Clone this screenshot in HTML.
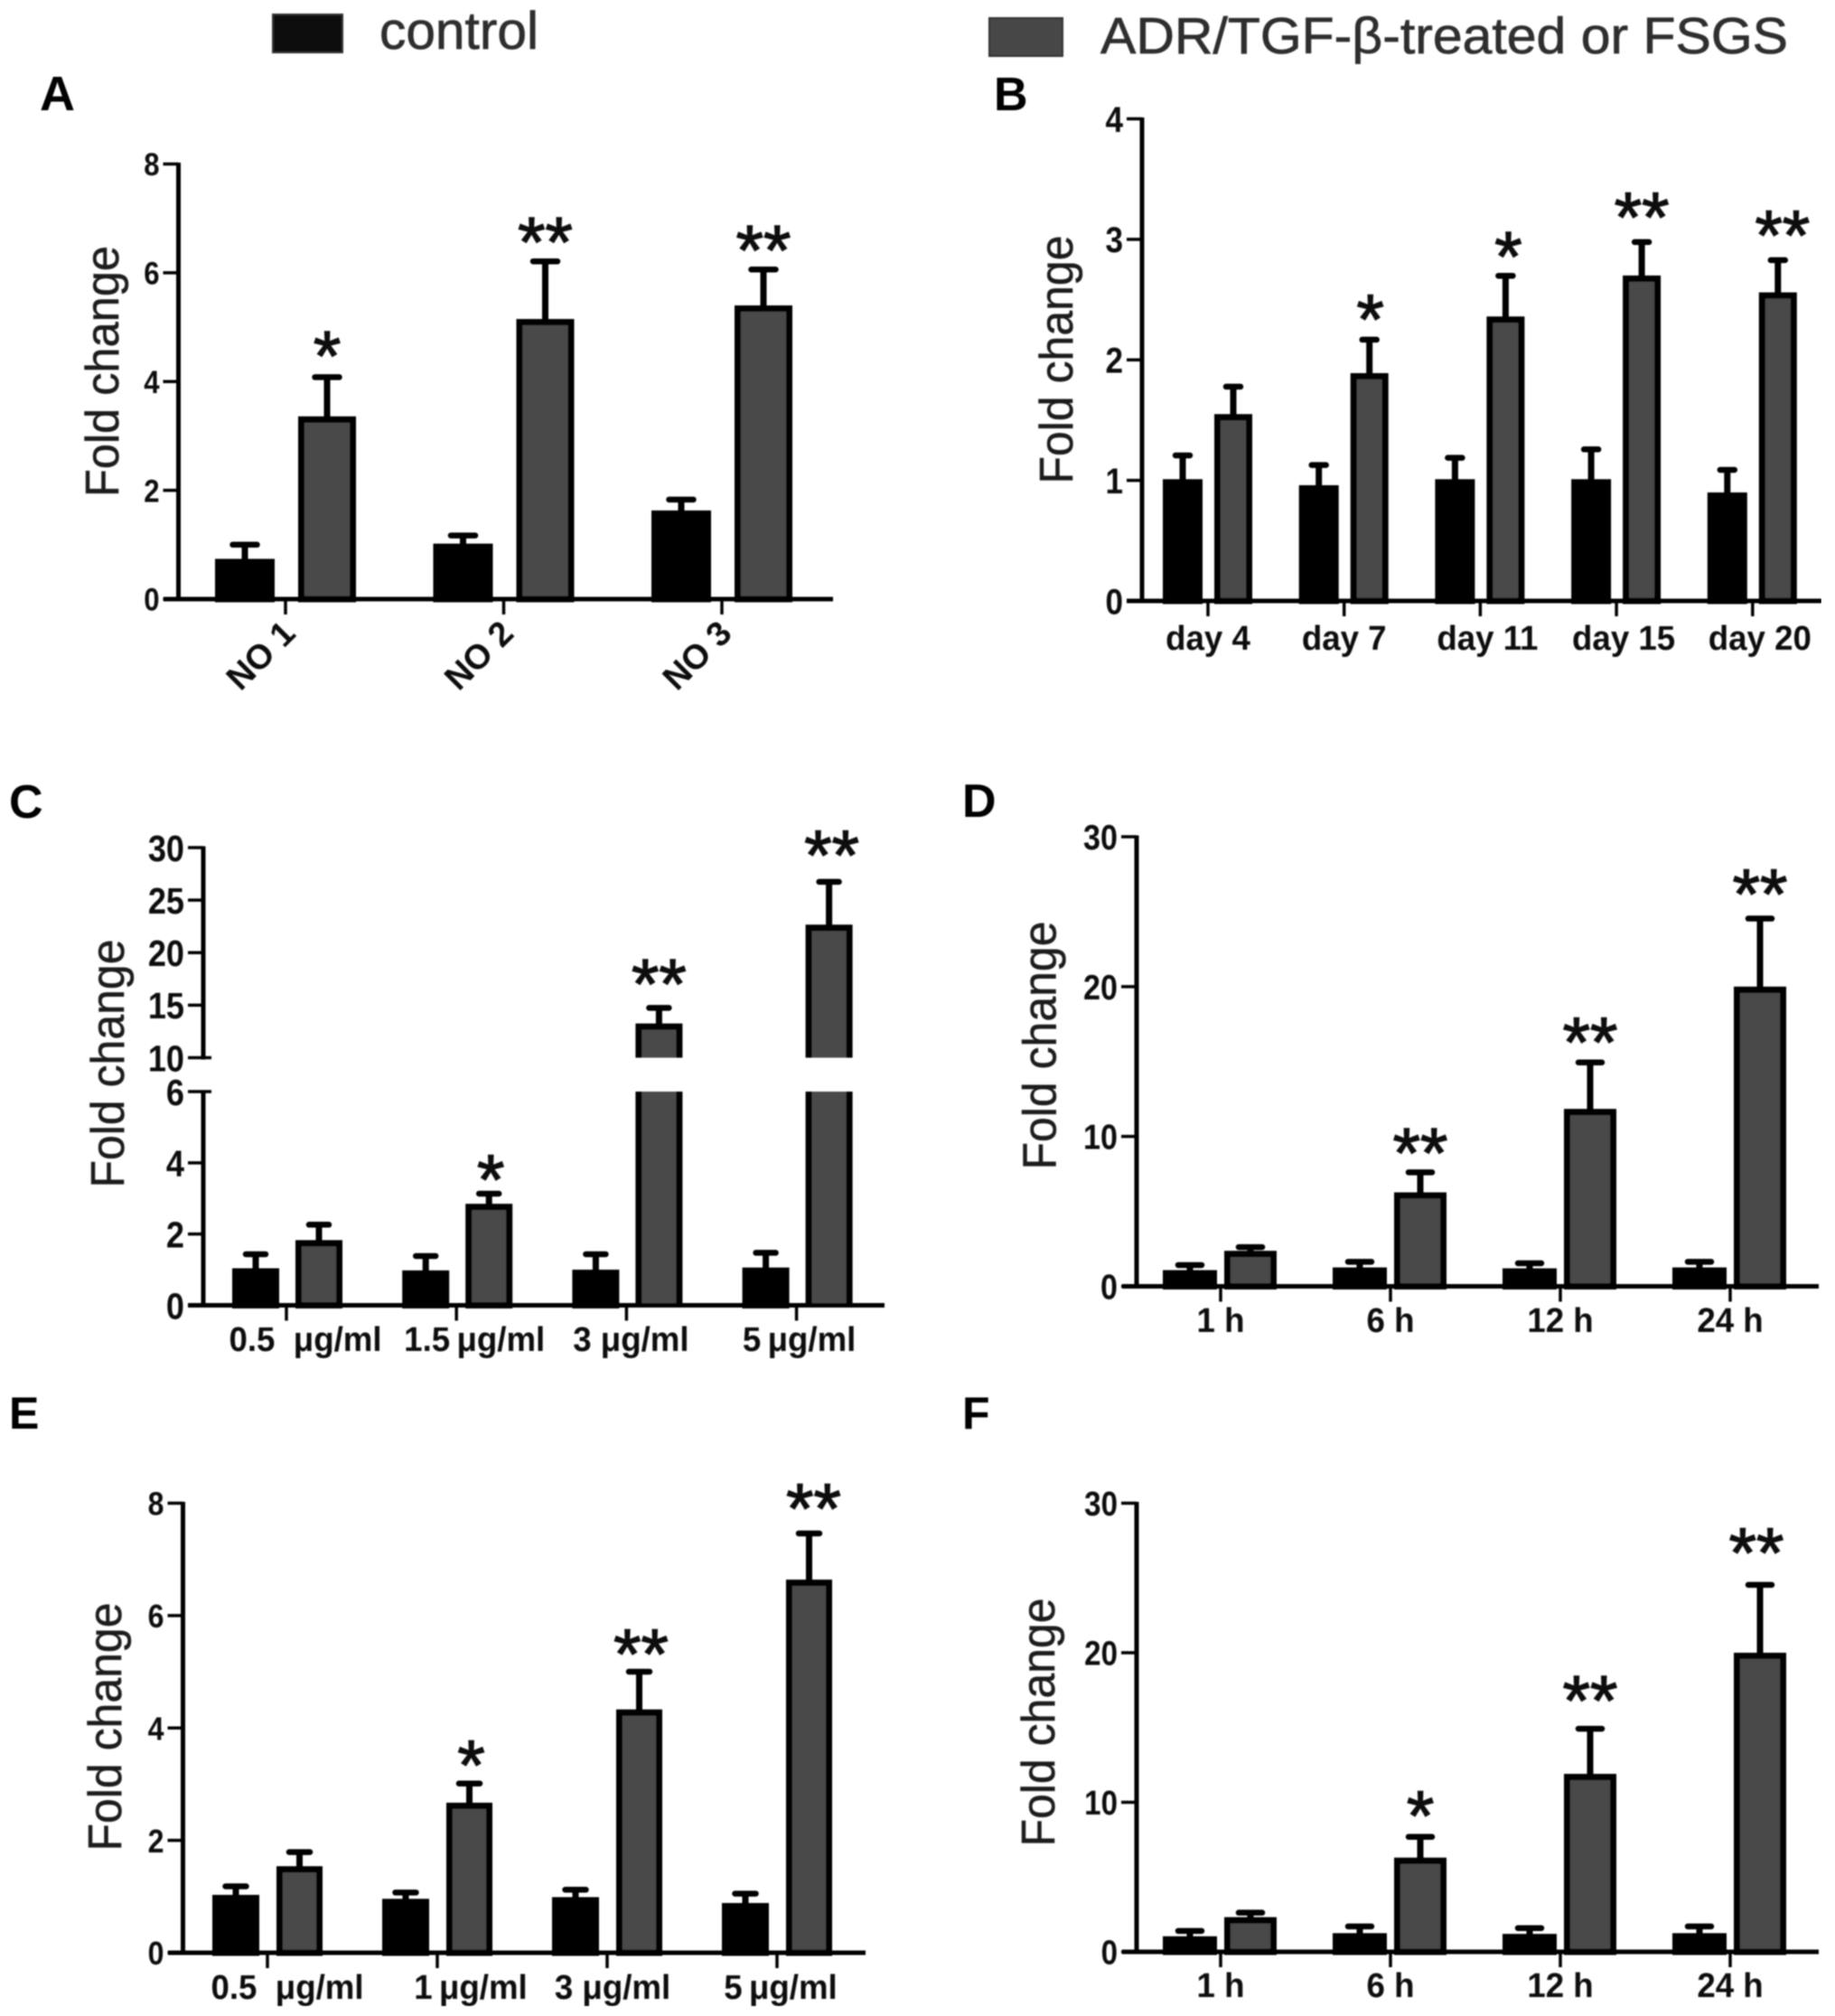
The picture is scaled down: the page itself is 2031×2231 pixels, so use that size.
<!DOCTYPE html>
<html lang="en">
<head>
<meta charset="utf-8">
<title>Fold change bar chart panels</title>
<style>
  html, body { margin: 0; padding: 0; background: #fff; }
  svg { display: block; }
  text { font-family: "Liberation Sans", "DejaVu Sans", sans-serif; white-space: pre; }
  .tick { font-weight: 700; fill: #0d0d0d; }
  .star { font-weight: 400; fill: #0d0d0d; stroke: #0d0d0d; stroke-width: 1.4; }
  .title { fill: #1c1c1c; stroke: #1c1c1c; stroke-width: 0.5; }
  .letter { font-weight: 700; fill: #000; }
  .legend-text { fill: #2e2e2e; stroke: #2e2e2e; stroke-width: 0.7; }
</style>
</head>
<body>
<svg id="figure" xmlns="http://www.w3.org/2000/svg" width="2031" height="2231" viewBox="0 0 2031 2231">
  <defs>
    <filter id="soft" x="0" y="0" width="100%" height="100%"><feGaussianBlur stdDeviation="0.8"/></filter>
  </defs>
  <rect width="2031" height="2231" fill="#fff"/>
  <g id="root" filter="url(#soft)">
    <g>
      <g>
        <rect x="302" y="16" width="77" height="42" fill="#111" stroke="#333" stroke-width="2"/>
        <text class="legend-text" x="420" y="54" font-size="58" textLength="176" lengthAdjust="spacingAndGlyphs">control</text>
      </g>
      <g>
        <rect x="1095" y="20" width="81" height="42" fill="#474747" stroke="#333" stroke-width="2"/>
        <text class="legend-text" x="1218" y="59" font-size="57" textLength="761" lengthAdjust="spacingAndGlyphs">ADR/TGF-β-treated or FSGS</text>
      </g>
    </g>
    <text class="letter" x="44" y="122" font-size="54">A</text>
    <text class="letter" x="1100" y="122" font-size="52">B</text>
    <text class="letter" x="10" y="905" font-size="52">C</text>
    <text class="letter" x="1065" y="904" font-size="52">D</text>
    <text class="letter" x="10" y="1581" font-size="50">E</text>
    <text class="letter" x="1065" y="1581" font-size="50">F</text>
  </g>
</svg>
<script>
// Panel A
const aCategories = ['NO 1', 'NO 2', 'NO 3'];
const aControl = [0.74, 1.02, 1.63];
const aControlErr = [0.31, 0.20, 0.25];
const aTreated = [3.36, 5.15, 5.40];
const aTreatedErr = [0.77, 1.11, 0.71];
const aStars = ['*', '**', '**'];
const aYTicks = [0, 2, 4, 6, 8];

// Panel B
const bCategories = ['day 4', 'day 7', 'day 11', 'day 15', 'day 20'];
const bControl = [1.01, 0.96, 1.01, 1.01, 0.90];
const bControlErr = [0.22, 0.19, 0.20, 0.27, 0.21];
const bTreated = [1.55, 1.89, 2.36, 2.70, 2.56];
const bTreatedErr = [0.25, 0.30, 0.36, 0.30, 0.29];
const bStars = ['', '*', '*', '**', '**'];
const bYTicks = [0, 1, 2, 3, 4];

// Panel C (broken axis)
const cCategories = ['0.5\u00a0\u00a0μg/ml', '1.5\u2009μg/ml', '3 μg/ml', '5\u2009μg/ml'];
const cControl = [1.04, 0.98, 1.00, 1.06];
const cControlErr = [0.47, 0.48, 0.51, 0.49];
const cTreated = [1.83, 2.85, 13.26, 22.67];
const cTreatedErr = [0.51, 0.36, 1.74, 4.33];
const cStars = ['', '*', '**', '**'];
const cYTicks = [0, 2, 4, 6, 10, 15, 20, 25, 30];

// Panel D
const dCategories = ['1 h', '6 h', '12 h', '24 h'];
const dControl = [1.08, 1.26, 1.20, 1.26];
const dControlErr = [0.52, 0.56, 0.52, 0.56];
const dTreated = [2.37, 6.27, 11.84, 20.0];
const dTreatedErr = [0.43, 1.52, 3.28, 4.72];
const dStars = ['', '**', '**', '**'];
const dYTicks = [0, 10, 20, 30];

// Panel E
const eCategories = ['0.5\u00a0\u00a0μg/ml', '1\u2009μg/ml', '3 μg/ml', '5\u2009μg/ml'];
const eControl = [1.03, 0.96, 0.99, 0.885];
const eControlErr = [0.20, 0.16, 0.18, 0.215];
const eTreated = [1.54, 2.67, 4.33, 6.64];
const eTreatedErr = [0.30, 0.39, 0.72, 0.87];
const eStars = ['', '*', '**', '**'];
const eYTicks = [0, 2, 4, 6, 8];

// Panel F
const fCategories = ['1 h', '6 h', '12 h', '24 h'];
const fControl = [1.04, 1.25, 1.20, 1.25];
const fControlErr = [0.54, 0.63, 0.57, 0.63];
const fTreated = [2.32, 6.30, 11.90, 20.0];
const fTreatedErr = [0.48, 1.57, 3.20, 4.72];
const fStars = ['', '*', '**', '**'];
const fYTicks = [0, 10, 20, 30];

const NS = 'http://www.w3.org/2000/svg';
const CONTROL_FILL = '#060606';
const TREATED_FILL = '#484848';
const BAR_STROKE = 7;
const STAR_SIZE = 78;
const root = document.getElementById('root');

function mk(parent, tag, attrs) {
  const el = document.createElementNS(NS, tag);
  for (const k in attrs) el.setAttribute(k, attrs[k]);
  parent.appendChild(el);
  return el;
}

function makeYScale(segs) {
  return function (v) {
    for (let i = 0; i < segs.length; i++) {
      const s = segs[i];
      if (v <= s.to || i === segs.length - 1) {
        const clamped = Math.max(v, s.from);
        return s.y0 + (clamped - s.from) * (s.y1 - s.y0) / (s.to - s.from);
      }
    }
  };
}

function drawBar(g, key, i, left, right, value, fill, y, L) {
  const w = right - left;
  const sw = BAR_STROKE;
  const inset = sw / 2;
  const upperSeg = L.segs.length > 1 && value > L.segs[0].to ? L.segs[1] : null;
  if (upperSeg) {
    const lower = L.segs[0];
    const low = mk(g, 'path', {
      d: 'M' + (left + inset) + ' ' + lower.y0 + 'V' + lower.y1 + 'H' + (right - inset) + 'V' + lower.y0,
      fill: fill, stroke: 'none'
    });
    
    
    const lowEdges = mk(g, 'path', {
      d: 'M' + (left + inset) + ' ' + lower.y0 + 'V' + lower.y1 + 'M' + (right - inset) + ' ' + lower.y1 + 'V' + lower.y0,
      fill: 'none', stroke: '#000', 'stroke-width': sw
    });
    
    
    const top = y(value);
    const up = mk(g, 'path', {
      d: 'M' + (left + inset) + ' ' + upperSeg.y0 + 'V' + (top + inset) + 'H' + (right - inset) + 'V' + upperSeg.y0,
      fill: fill, stroke: '#000', 'stroke-width': sw
    });
    
    
  } else {
    const top = y(value);
    const bar = mk(g, 'rect', {
      x: left + inset, y: top + inset, width: w - sw, height: Math.max(0, y(0) - top - inset),
      fill: fill, stroke: '#000', 'stroke-width': sw
    });
    
    
  }
}

function drawError(g, key, i, cx, value, err, y, capW) {
  const yTop = y(value + err);
  const stem = mk(g, 'line', {
    x1: cx, x2: cx, y1: y(value) + 4, y2: yTop + 3,
    stroke: '#000', 'stroke-width': 7
  });
  
  
  const cap = mk(g, 'line', {
    x1: cx - capW / 2 + 3.5, x2: cx + capW / 2 - 3.5, y1: yTop + 3, y2: yTop + 3,
    stroke: '#000', 'stroke-width': 6.5, 'stroke-linecap': 'round'
  });
  
  
}

function renderPanel(P, L) {
  const g = mk(root, 'g', {});
  
  

  const y = makeYScale(L.segs);
  const x = function (i) { return L.tick0 + i * L.step; };

  // y-axis title
  const title = mk(g, 'text', {
    class: 'title', 'font-size': 52, 'text-anchor': 'middle',
    transform: 'translate(' + L.titleX + ',' + L.titleY + ') rotate(-90)',
    textLength: L.titleLen, lengthAdjust: 'spacingAndGlyphs'
  });
  title.textContent = 'Fold change';
  
  

  // bars with error bars
  P.categories.forEach(function (cat, i) {
    const cl = x(i) + L.controlL, cr = x(i) + L.controlR;
    const tl = x(i) + L.treatedL, tr = x(i) + L.treatedR;
    drawError(g, 'control', i, (cl + cr) / 2, P.control[i], P.controlErr[i], y, L.capW);
    drawBar(g, 'control', i, cl, cr, P.control[i], CONTROL_FILL, y, L);
    drawError(g, 'treated', i, (tl + tr) / 2, P.treated[i], P.treatedErr[i], y, L.capW);
    drawBar(g, 'treated', i, tl, tr, P.treated[i], TREATED_FILL, y, L);

    if (P.stars[i]) {
      const gap = L.starGap[i] + 6;
      const errTop = y(P.treated[i] + P.treatedErr[i]);
      const star = mk(g, 'text', {
        class: 'star', 'font-size': STAR_SIZE, 'text-anchor': 'middle',
        x: (tl + tr) / 2 + (L.starDx ? L.starDx[i] : 0),
        y: errTop - gap + 0.58 * STAR_SIZE
      });
      star.textContent = P.stars[i];
      
      
    }

    // x tick
    const t = mk(g, 'line', {
      x1: x(i), x2: x(i), y1: L.segs[0].y0, y2: L.segs[0].y0 + 17,
      stroke: '#000', 'stroke-width': 3.5
    });
    
    

    // x label (slightly condensed like the original)
    const lx = x(i) + (L.labelNudge ? L.labelNudge[i] : 0);
    const attrs = L.rotate
      ? { class: 'tick', 'font-size': L.labelFont, 'text-anchor': 'end',
          transform: 'translate(' + (lx + L.rotate.dx) + ',' + (L.segs[0].y0 + L.rotate.dy) + ') rotate(-45)' }
      : { class: 'tick', 'font-size': L.labelFont * 1.08, 'text-anchor': 'middle',
          transform: 'translate(' + lx + ',' + L.labelY + ') scale(0.97,1)' };
    const lab = mk(g, 'text', attrs);
    lab.textContent = cat;
    
    
  });

  // y axis
  L.segs.forEach(function (s, idx) {
    const a = mk(g, 'line', {
      x1: L.axisX, x2: L.axisX, y1: s.y0 + 2, y2: s.y1 - 1.5,
      stroke: '#000', 'stroke-width': 5
    });
    
    
  });

  // y ticks
  P.yTicks.forEach(function (v, i) {
    const ty = y(v);
    const isBreak = L.segs.length > 1 && (v === L.segs[0].to || v === L.segs[1].from);
    const t = mk(g, 'line', {
      x1: L.axisX - 17, x2: L.axisX + (isBreak ? 9 : 0), y1: ty, y2: ty,
      stroke: '#000', 'stroke-width': 3.5
    });
    
    
    const tf = L.tickFont * 1.14;
    const lab = mk(g, 'text', {
      class: 'tick', 'font-size': tf, 'text-anchor': 'end',
      transform: 'translate(' + (L.axisX - 21) + ',' + (ty + tf * 0.36) + ') scale(0.88,1)'
    });
    lab.textContent = String(v);
    
    
  });

  // x axis
  const xa = mk(g, 'line', {
    x1: L.axisL, x2: L.axisR, y1: L.segs[0].y0, y2: L.segs[0].y0,
    stroke: '#000', 'stroke-width': 5
  });
  
  
}

renderPanel(
  { categories: aCategories, control: aControl, controlErr: aControlErr, treated: aTreated, treatedErr: aTreatedErr, stars: aStars, yTicks: aYTicks },
  { id: 'a', segs: [{ from: 0, to: 8, y0: 663, y1: 181.5 }], axisX: 197.5, axisL: 181, axisR: 922,
    tick0: 316, step: 241.5, controlL: -78, controlR: -12, treatedL: 14, treatedR: 78, capW: 34,
    titleX: 131, titleY: 411, titleLen: 278, tickFont: 31, labelFont: 38,
    rotate: { dx: 13, dy: 40 }, starGap: [33, 31, 31] }
);
renderPanel(
  { categories: bCategories, control: bControl, controlErr: bControlErr, treated: bTreated, treatedErr: bTreatedErr, stars: bStars, yTicks: bYTicks },
  { id: 'b', segs: [{ from: 0, to: 4, y0: 665, y1: 131.5 }], axisX: 1264, axisL: 1247, axisR: 2016,
    tick0: 1337, step: 150.7, controlL: -50, controlR: -6, treatedL: 7, treatedR: 49, capW: 23,
    titleX: 1187, titleY: 398, titleLen: 275, tickFont: 35, labelFont: 35, labelY: 719,
    labelNudge: [0, 0, 8, 8, 8], starGap: [0, 32, 31, 37, 37], starDx: [0, 1, 3, 0, 5] }
);
renderPanel(
  { categories: cCategories, control: cControl, controlErr: cControlErr, treated: cTreated, treatedErr: cTreatedErr, stars: cStars, yTicks: cYTicks },
  { id: 'c', segs: [{ from: 0, to: 6, y0: 1444.5, y1: 1208 }, { from: 10, to: 30, y0: 1170.5, y1: 938 }],
    axisX: 225, axisL: 208, axisR: 979,
    tick0: 317, step: 188.2, controlL: -60, controlR: -8, treatedL: 10, treatedR: 62, capW: 29,
    titleX: 137, titleY: 1177, titleLen: 275, tickFont: 36, labelFont: 35, labelY: 1495,
    labelNudge: [21, 20, 5, 3], starGap: [0, 25, 36, 39], starDx: [0, 2, 0, 3] }
);
renderPanel(
  { categories: dCategories, control: dControl, controlErr: dControlErr, treated: dTreated, treatedErr: dTreatedErr, stars: dStars, yTicks: dYTicks },
  { id: 'd', segs: [{ from: 0, to: 30, y0: 1423.5, y1: 926 }], axisX: 1258, axisL: 1242, axisR: 2013,
    tick0: 1351, step: 188, controlL: -64, controlR: -4, treatedL: 4, treatedR: 62, capW: 33,
    titleX: 1168.5, titleY: 1157, titleLen: 275, tickFont: 34, labelFont: 35, labelY: 1474,
    starGap: [0, 31, 32, 37], starDx: [0, 0, 0, 0] }
);
renderPanel(
  { categories: eCategories, control: eControl, controlErr: eControlErr, treated: eTreated, treatedErr: eTreatedErr, stars: eStars, yTicks: eYTicks },
  { id: 'e', segs: [{ from: 0, to: 8, y0: 2161, y1: 1663.5 }], axisX: 202.5, axisL: 186, axisR: 958,
    tick0: 296, step: 188, controlL: -61, controlR: -9, treatedL: 10, treatedR: 61, capW: 30,
    titleX: 134, titleY: 1911, titleLen: 275, tickFont: 32, labelFont: 35, labelY: 2212,
    labelNudge: [22, 37, 6, 4], starGap: [0, 30, 29, 37], starDx: [0, 2, 2, 5] }
);
renderPanel(
  { categories: fCategories, control: fControl, controlErr: fControlErr, treated: fTreated, treatedErr: fTreatedErr, stars: fStars, yTicks: fYTicks },
  { id: 'f', segs: [{ from: 0, to: 30, y0: 2160, y1: 1663.5 }], axisX: 1258, axisL: 1242, axisR: 2013,
    tick0: 1351, step: 188, controlL: -64, controlR: -4, treatedL: 4, treatedR: 62, capW: 33,
    titleX: 1167, titleY: 1906, titleLen: 275, tickFont: 33, labelFont: 35, labelY: 2210,
    starGap: [0, 33, 41, 45], starDx: [0, 0, 0, -4] }
);
</script>
</body>
</html>
